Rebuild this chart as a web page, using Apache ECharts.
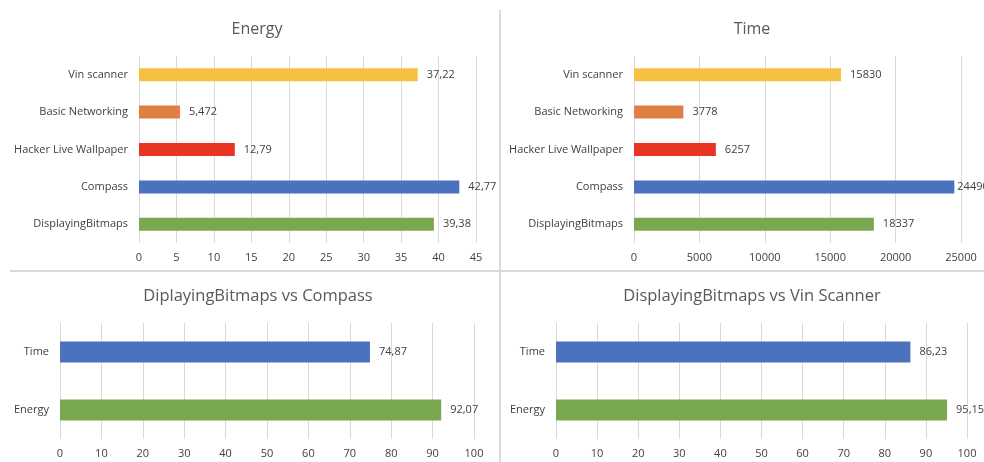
<!DOCTYPE html>
<html>
<head>
<meta charset="utf-8">
<script src="https://cdn.jsdelivr.net/npm/echarts@6/dist/echarts.min.js"></script>
<style>
  html, body { margin: 0; padding: 0; background: #fff; }
  #chart { width: 984px; height: 462px; }
</style>
</head>
<body>
<div id="chart"></div>
<script>
// apps, top to bottom
const apps = ['Vin scanner', 'Basic Networking', 'Hacker Live Wallpaper', 'Compass', 'DisplayingBitmaps'];
const appColors = ['#F6C142', '#E07F45', '#E93323', '#4A72BE', '#79A851'];
const energyValues = [37.22, 5.472, 12.79, 42.77, 39.38];
const timeValues = [15830, 3778, 6257, 24490, 18337];

const metrics = ['Time', 'Energy'];
const metricColors = ['#4A72BE', '#79A851'];
const vsCompass = [74.87, 92.07];
const vsVinScanner = [86.23, 95.15];

const titles = ['Energy', 'Time', 'DiplayingBitmaps vs Compass', 'DisplayingBitmaps vs Vin Scanner'];

const FONT = '"Open Sans", "Noto Sans", sans-serif';

// comma as decimal separator, like the source
const fmt = v => String(v).replace('.', ',');

const grids = [
    { left: 139, width: 337, top: 56, height: 187 },
    { left: 634, width: 327, top: 56, height: 187 },
    { left: 60, width: 414, top: 323, height: 116 },
    { left: 556, width: 411, top: 323, height: 116 },
];

const xRanges = [
    { max: 45, interval: 5 },
    { max: 25000, interval: 5000 },
    { max: 100, interval: 10 },
    { max: 100, interval: 10 },
];

const makeSeries = (idx, values, colors, barWidth) => ({
    type: 'bar',
    xAxisIndex: idx,
    yAxisIndex: idx,
    barWidth: barWidth,
    data: values.map((v, i) => {
        const item = { value: v, itemStyle: { color: colors[i] } };
        // label hugging the right edge sits closer to the bar (as in source)
        if (idx === 1 && v / xRanges[idx].max > 0.97) item.label = { distance: 3 };
        return item;
    }),
    label: {
        show: true,
        position: 'right',
        distance: 9,
        color: '#404040',
        fontFamily: FONT,
        fontSize: 11,
        formatter: p => fmt(p.value),
    },
});

const chart = echarts.init(document.getElementById('chart'));

const option = {
    animation: false,
    backgroundColor: '#fff',
    title: titles.map((t, i) => ({
        text: t,
        left: [252, 747, 253, 747][i],
        top: [16, 16, 283, 283][i],
        textAlign: 'center',
        textStyle: { color: '#595959', fontFamily: FONT, fontSize: i < 2 ? 16 : 16.5, fontWeight: 'normal' },
    })),
    grid: grids,
    xAxis: grids.map((g, i) => ({
        type: 'value',
        gridIndex: i,
        min: 0,
        max: xRanges[i].max,
        interval: xRanges[i].interval,
        axisLine: { show: false },
        axisTick: { show: false },
        axisLabel: { color: '#404040', fontFamily: FONT, fontSize: 11, margin: 9, formatter: v => String(v) },
        splitLine: { show: true, lineStyle: { color: '#d9d9d9', width: 1 } },
    })),
    yAxis: grids.map((g, i) => ({
        type: 'category',
        gridIndex: i,
        inverse: true,
        data: i < 2 ? apps : metrics,
        axisLine: { show: false },
        axisTick: { show: false },
        axisLabel: { color: '#404040', fontFamily: FONT, fontSize: 11, margin: 11 },
    })),
    series: [
        makeSeries(0, energyValues, appColors, 13),
        makeSeries(1, timeValues, appColors, 13),
        makeSeries(2, vsCompass, metricColors, 21),
        makeSeries(3, vsVinScanner, metricColors, 21),
    ],
    graphic: [
        { type: 'rect', shape: { x: 499, y: 10, width: 2, height: 452 }, style: { fill: '#d9d9d9' } },
        { type: 'rect', shape: { x: 10, y: 270, width: 974, height: 2 }, style: { fill: '#d9d9d9' } },
    ],
};

chart.setOption(option);
</script>
</body>
</html>
